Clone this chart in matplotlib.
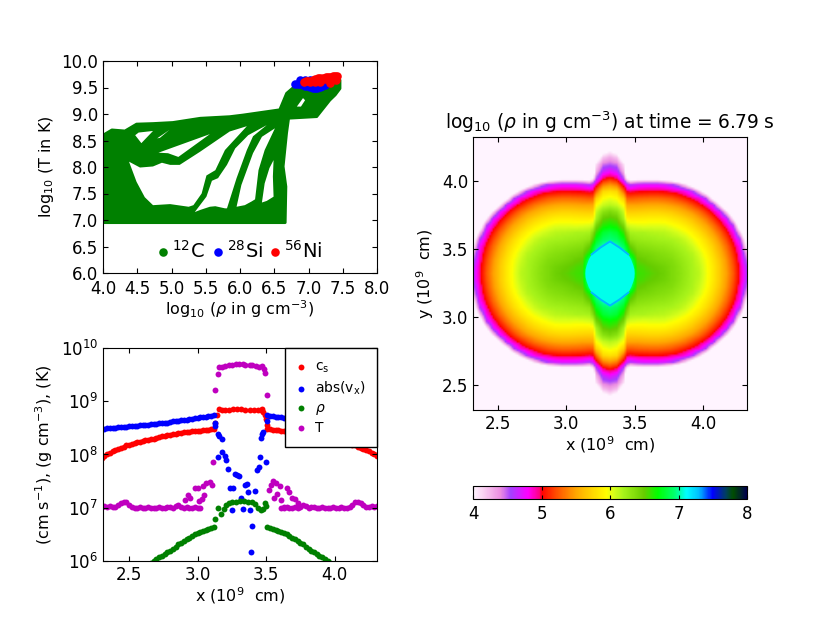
import numpy as np
import matplotlib
matplotlib.use("Agg")
import matplotlib.pyplot as plt
from matplotlib.colors import LinearSegmentedColormap

# fase (rho, T) - contorno da massa verde e buracos brancos
mass_rho = [4.0, 6.66, 6.67, 6.63, 6.68, 6.71, 7.12, 7.31, 7.39, 7.46, 7.46, 6.77, 6.68, 6.58, 6.04, 5.85, 5.42, 5.02, 4.73, 4.49, 4.32, 4.13, 4.0]
mass_temp = [6.95, 6.95, 7.63, 8.01, 8.64, 8.92, 8.95, 9.26, 9.36, 9.48, 9.64, 9.49, 9.39, 9.08, 8.98, 8.95, 8.92, 8.84, 8.82, 8.81, 8.68, 8.70, 8.60]

holes = [
    ([4.38, 4.54, 4.73, 4.86, 4.98, 5.12, 5.42, 5.85, 6.10, 5.78, 5.64, 5.51, 5.44, 5.32, 5.25, 4.98, 4.73, 4.61, 4.49],
     [8.10, 7.99, 8.01, 8.08, 8.04, 8.04, 8.29, 8.67, 8.77, 8.32, 7.94, 7.84, 7.50, 7.28, 7.25, 7.30, 7.28, 7.43, 7.72]),
    ([5.34, 5.42, 5.56, 5.64, 5.78, 5.81, 5.95, 6.10, 6.19, 6.39, 6.12, 5.93, 5.81, 5.71, 5.68, 5.59, 5.51],
     [7.15, 7.19, 7.25, 7.26, 7.22, 7.22, 7.79, 8.32, 8.58, 8.79, 8.60, 8.35, 8.04, 7.85, 7.79, 7.74, 7.44]),
    ([5.95, 6.07, 6.17, 6.22, 6.27, 6.36, 6.51, 6.32, 6.19, 6.02],
     [7.25, 7.28, 7.35, 7.39, 7.94, 8.32, 8.73, 8.57, 8.26, 7.66]),
    ([6.32, 6.36, 6.43, 6.49, 6.48, 6.49, 6.39],
     [7.33, 7.69, 7.98, 8.13, 7.82, 7.44, 7.36]),
    ([4.81, 5.56, 5.10, 4.95], [8.27, 8.62, 8.19, 8.26]),
    ([4.52, 4.73, 4.56, 4.47], [8.65, 8.68, 8.45, 8.60]),
    ([4.79, 4.97, 4.83], [8.54, 8.70, 8.55]),
    ([6.83, 6.92, 6.95, 6.89], [9.14, 9.30, 9.26, 9.14]),
]

si_rho = [6.81, 6.85, 6.88, 6.92, 6.95, 6.99, 7.02, 7.06, 7.09, 7.13, 7.17, 7.20, 7.24, 6.88, 6.95, 7.02]
si_temp = [9.57, 9.57, 9.57, 9.55, 9.53, 9.52, 9.51, 9.50, 9.49, 9.50, 9.51, 9.53, 9.55, 9.64, 9.64, 9.64]
ni_rho = [6.93, 6.96, 6.99, 7.03, 7.07, 7.10, 7.14, 7.17, 7.21, 7.25, 7.28, 7.32, 7.36, 7.39, 7.42, 7.02, 7.10, 7.17, 7.31, 7.40, 7.24, 7.36]
ni_temp = [9.61, 9.62, 9.62, 9.63, 9.64, 9.66, 9.67, 9.68, 9.68, 9.69, 9.70, 9.70, 9.71, 9.72, 9.72, 9.60, 9.60, 9.60, 9.58, 9.64, 9.66, 9.66]

# perfis em log10, lado esquerdo (o direito e o espelho)
x_edge = [2.30, 2.32, 2.34, 2.36, 2.38, 2.40, 2.42, 2.44, 2.46, 2.48, 2.50, 2.52, 2.54, 2.56,
          2.58, 2.60, 2.62, 2.64, 2.66, 2.68, 2.70, 2.72, 2.74, 2.76, 2.78, 2.80, 2.82, 2.84,
          2.86, 2.88, 2.90, 2.92, 2.94, 2.96, 2.98, 3.00, 3.02, 3.04, 3.06, 3.08, 3.10, 3.12]
vx_edge = [8.48, 8.48, 8.49, 8.49, 8.50, 8.50, 8.51, 8.51, 8.52, 8.52, 8.53, 8.53, 8.54, 8.54,
           8.55, 8.55, 8.56, 8.56, 8.57, 8.57, 8.58, 8.59, 8.59, 8.60, 8.60, 8.61, 8.62, 8.62,
           8.63, 8.64, 8.65, 8.65, 8.66, 8.67, 8.68, 8.69, 8.70, 8.70, 8.71, 8.72, 8.73, 8.74]
cs_edge = [7.93, 7.97, 8.00, 8.03, 8.06, 8.09, 8.11, 8.13, 8.15, 8.17, 8.18, 8.20, 8.21, 8.23,
           8.24, 8.25, 8.27, 8.28, 8.29, 8.30, 8.31, 8.33, 8.34, 8.35, 8.36, 8.37, 8.38, 8.39,
           8.40, 8.41, 8.42, 8.43, 8.43, 8.44, 8.44, 8.45, 8.45, 8.46, 8.46, 8.46, 8.47, 8.47]
dens_edge = [5.97, 6.00, 6.04, 6.07, 6.10, 6.13, 6.16, 6.19, 6.23, 6.27, 6.31, 6.34, 6.38, 6.41,
             6.44, 6.47, 6.50, 6.53, 6.55, 6.57, 6.59, 6.61, 6.62, 6.63]
temp_edge = [7.02, 7.03, 7.01, 7.03, 7.02, 7.02, 7.05, 7.08, 7.11, 7.10,
             7.05, 7.02, 7.00, 7.00, 7.01, 7.00, 7.00, 7.01, 7.00, 7.00,
             7.00, 7.01, 7.00, 7.00, 7.01, 7.02, 7.00, 7.03, 7.05, 7.02,
             7.00, 7.01, 7.00, 7.00, 7.01, 7.00, 7.00]

# pontos do miolo
x_cs_mid = [3.13, 3.14, 3.16, 3.18, 3.20, 3.23, 3.26, 3.29, 3.32, 3.35, 3.38, 3.41, 3.44, 3.46, 3.47, 3.48, 3.49, 3.50, 3.51]
cs_mid = [8.60, 8.75, 8.86, 8.84, 8.84, 8.84, 8.85, 8.85, 8.85, 8.84, 8.84, 8.84, 8.84, 8.84, 8.85, 8.80, 8.75, 8.66, 8.56]
x_vx_mid = [3.13, 3.13, 3.15, 3.16, 3.175, 3.146, 3.18, 3.20, 3.21, 3.225, 3.27, 3.285, 3.305, 3.345, 3.36, 3.235,
            3.26, 3.365, 3.42, 3.25, 3.33, 3.38, 3.315, 3.40, 3.39, 3.435, 3.45, 3.455, 3.50, 3.47, 3.46, 3.48, 3.505]
vx_mid = [8.53, 8.60, 8.38, 8.34, 8.29, 7.96, 8.04, 7.98, 7.90, 7.73, 7.63, 7.62, 7.59, 7.43, 7.44, 7.37,
          7.37, 7.30, 7.32, 6.96, 6.97, 6.95, 7.18, 6.65, 6.16, 7.71, 7.76, 7.96, 7.85, 8.39, 8.31, 8.43, 8.62]
x_dens_mid = [3.13, 3.15, 3.17, 3.19, 3.21, 3.23, 3.25, 3.28, 3.31, 3.34, 3.37, 3.40, 3.42, 3.44, 3.46, 3.48, 3.49, 3.50]
dens_mid = [6.78, 7.00, 6.88, 6.97, 7.05, 7.09, 7.11, 7.11, 7.12, 7.12, 7.11, 7.11, 7.07, 7.00, 6.95, 6.98, 7.08, 7.03]
x_temp_mid = [2.91, 2.93, 2.945, 2.98, 3.005, 3.04, 3.065, 3.09, 3.105, 3.05, 3.03, 3.01, 3.115, 3.13, 3.146, 3.156,
              3.18, 3.20, 3.23, 3.25, 3.28, 3.30, 3.33, 3.35, 3.38, 3.40, 3.43, 3.45, 3.47, 3.485, 3.49, 3.51,
              3.52, 3.535, 3.55, 3.57, 3.60, 3.65, 3.67, 3.69, 3.71, 3.735, 3.56, 3.58, 3.61, 3.63]
temp_mid = [7.15, 7.24, 7.18, 7.37, 7.38, 7.40, 7.46, 7.49, 7.43, 7.24, 7.17, 7.12, 7.86, 9.22, 9.52, 9.65,
            9.65, 9.67, 9.68, 9.69, 9.70, 9.70, 9.70, 9.69, 9.69, 9.68, 9.67, 9.65, 9.66, 9.60, 9.53, 9.12,
            7.33, 7.43, 7.50, 7.47, 7.40, 7.38, 7.30, 7.18, 7.17, 7.08, 7.18, 7.25, 7.15, 7.02]

# log10(rho): um quadrante em torno do centro
center = 3.32
dx_cols = [0, .05, .1, .125, .15, .2, .25, .3, .35, .4, .45, .5, .55, .6, .65, .7, .75, .8, .85, .9, .95, 1.0]
dy_rows = [0, .05, .1, .15, .2, .25, .3, .35, .4, .45, .5, .55, .6, .65, .7, .75, .8, .85, .9, .95, 1.0]
quadrant = [
    [7.12, 7.12, 7.12, 7.12, 7.12, 6.60, 6.57, 6.53, 6.50, 6.46, 6.39, 6.34, 6.27, 6.19, 6.14, 6.00, 5.85, 5.68, 5.49, 5.25, 4.95, 4.60],
    [7.12, 7.12, 7.12, 7.12, 7.10, 6.57, 6.54, 6.50, 6.47, 6.44, 6.39, 6.33, 6.26, 6.19, 6.12, 5.99, 5.85, 5.68, 5.47, 5.23, 4.94, 4.57],
    [7.12, 7.12, 7.12, 7.10, 6.95, 6.51, 6.48, 6.44, 6.41, 6.39, 6.36, 6.30, 6.24, 6.18, 6.09, 5.97, 5.82, 5.65, 5.44, 5.19, 4.90, 4.45],
    [7.12, 7.12, 7.05, 6.85, 6.65, 6.44, 6.41, 6.39, 6.36, 6.34, 6.31, 6.26, 6.20, 6.15, 6.05, 5.92, 5.77, 5.59, 5.38, 5.13, 4.85, 4.28],
    [7.12, 7.05, 6.90, 6.72, 6.48, 6.35, 6.33, 6.31, 6.29, 6.28, 6.25, 6.20, 6.16, 6.08, 5.97, 5.85, 5.71, 5.52, 5.31, 5.05, 4.78, 3.95],
    [6.95, 6.90, 6.75, 6.50, 6.30, 6.26, 6.24, 6.23, 6.21, 6.20, 6.18, 6.15, 6.09, 6.00, 5.90, 5.77, 5.61, 5.42, 5.20, 4.94, 4.60, 3.70],
    [6.85, 6.80, 6.60, 6.35, 6.20, 6.18, 6.18, 6.16, 6.15, 6.14, 6.10, 6.05, 5.99, 5.90, 5.79, 5.65, 5.49, 5.30, 5.07, 4.82, 4.20, 3.40],
    [6.68, 6.63, 6.42, 6.10, 6.05, 6.03, 6.02, 6.03, 6.03, 6.02, 5.98, 5.93, 5.86, 5.77, 5.65, 5.52, 5.35, 5.14, 4.92, 4.60, 3.70, 3.20],
    [6.55, 6.50, 6.20, 5.90, 5.87, 5.87, 5.88, 5.89, 5.89, 5.88, 5.84, 5.79, 5.72, 5.63, 5.50, 5.36, 5.17, 4.96, 4.72, 4.05, 3.40, 3.00],
    [6.40, 6.33, 6.10, 5.72, 5.70, 5.71, 5.72, 5.73, 5.73, 5.71, 5.68, 5.62, 5.54, 5.45, 5.33, 5.16, 4.97, 4.75, 4.18, 3.60],
    [6.15, 6.10, 5.95, 5.52, 5.50, 5.50, 5.52, 5.53, 5.53, 5.51, 5.47, 5.42, 5.34, 5.22, 5.08, 4.92, 4.70, 4.10, 3.50],
    [6.00, 5.95, 5.70, 5.27, 5.25, 5.28, 5.29, 5.30, 5.30, 5.28, 5.24, 5.17, 5.08, 4.97, 4.85, 4.58, 3.95, 3.50],
    [5.80, 5.75, 5.30, 5.00, 4.98, 5.00, 5.01, 5.02, 5.02, 5.00, 4.97, 4.92, 4.82, 4.64, 4.26, 3.80, 3.40],
    [5.45, 5.35, 4.95, 4.70, 4.60, 4.68, 4.72, 4.72, 4.72, 4.68, 4.60, 4.42, 4.15, 3.80, 3.40],
    [5.05, 4.95, 4.50, 3.95, 3.75, 3.80, 3.80, 3.80, 3.80, 3.70, 3.60, 3.40],
    [4.75, 4.65, 4.25, 3.60],
    [4.50, 4.45, 4.10, 3.60],
    [4.30, 4.20, 3.75, 3.20],
    [4.00, 3.85, 3.20],
    [3.40],
    [3.00],
]

# losango central e a borda azul dele
diamond_dx = [0, .07, .134, .155, .17, .178, .18]
diamond_dy = [.235, .19, .14, .10, .06, .03, 0]
rim_dx = [.134, .07, 0]
rim_dy = [.14, .19, .235]
diamond_color = (0, 1, .92)
rim_color = (0, .72, 1)

cmap_levels = [4.0, 4.15, 4.4, 4.55, 4.8, 4.97, 5.0, 5.25, 5.5, 5.75, 5.95, 6.05, 6.2, 6.5, 6.7, 6.95, 7.12, 7.3, 7.5, 7.7, 7.8, 8.0]
cmap_colors = [(1, .96, 1), (.98, .82, .95), (.92, .55, .88), (.65, .25, 1), (1, 0, 1), (1, 0, .5), (1, 0, 0),
               (1, .35, 0), (1, .65, 0), (1, .85, 0), (1, 1, 0), (.85, 1, .1), (.65, .95, .1), (.4, .8, 0),
               (0, 1, 0), (0, 1, .45), (0, 1, 1), (0, .75, 1), (0, 0, 1), (0, .25, .35), (0, .3, 0), (0, 0, .3)]

plt.rcParams['font.family'] = 'DejaVu Sans'
plt.rcParams['font.size'] = 12
plt.rcParams['axes.labelsize'] = 11.5
plt.rcParams['mathtext.default'] = 'regular'
plt.rcParams['xtick.direction'] = 'in'
plt.rcParams['ytick.direction'] = 'in'
plt.rcParams['xtick.top'] = True
plt.rcParams['ytick.right'] = True

half_ticks = [2.5, 3.0, 3.5, 4.0]

fig = plt.figure(figsize=(8.3, 6.23), dpi=100)

# painel de fase
ax1 = fig.add_axes([103/830, 1-273/623, 274/830, 212/623])
ax1.fill(mass_rho, mass_temp, color='g', lw=2, joinstyle='round')
for h_rho, h_temp in holes:
    ax1.fill(h_rho, h_temp, color='w', lw=0)
ax1.scatter(si_rho, si_temp, s=38, c='b', linewidths=0, label=r'$^{28}$Si', zorder=3)
ax1.scatter(ni_rho, ni_temp, s=38, c='r', linewidths=0, label=r'$^{56}$Ni', zorder=4)
ax1.scatter([], [], s=38, c='g', linewidths=0, label=r'$^{12}$C')
ax1.set_xlim(4, 8)
ax1.set_ylim(6, 10)
ax1.set_xticks([4.0, 4.5, 5.0, 5.5, 6.0, 6.5, 7.0, 7.5, 8.0])
ax1.set_yticks([6.0, 6.5, 7.0, 7.5, 8.0, 8.5, 9.0, 9.5, 10.0])
ax1.tick_params(axis='x', pad=5)
ax1.set_xlabel(r'log$_{10}$ ($\mathit{\rho}$ in g cm$^{-3}$)', labelpad=0)
ax1.set_ylabel(r'log$_{10}$ (T in K)')
h, l = ax1.get_legend_handles_labels()
ax1.legend([h[2], h[0], h[1]], [l[2], l[0], l[1]], ncol=3, loc='lower center', frameon=False, fontsize=14,
           scatterpoints=1, handlelength=0.6, handletextpad=0.16, columnspacing=0.36, borderaxespad=0.2)

# perfis
ax2 = fig.add_axes([103/830, 1-561/623, 274/830, 213/623])
x_edge_r = [6.63 - x for x in x_edge]
x_dens = x_edge[-len(dens_edge):]
x_temp = x_edge[:len(temp_edge)]
cs = [10**v for v in cs_edge + cs_edge + cs_mid]
vx = [10**v for v in vx_edge + vx_edge + vx_mid]
dens = [10**v for v in dens_edge + dens_edge + dens_mid]
temp = [10**v for v in temp_edge + temp_edge + temp_mid]
ax2.scatter(x_edge + x_edge_r + x_cs_mid, cs, s=18, c='r', linewidths=0, label=r'c$_s$')
ax2.scatter(x_edge + x_edge_r + x_vx_mid, vx, s=18, c='b', linewidths=0, label=r'abs(v$_x$)')
ax2.scatter(x_dens + [6.63 - x for x in x_dens] + x_dens_mid, dens, s=18, c='g', linewidths=0, label=r'$\mathit{\rho}$')
ax2.scatter(x_temp + [6.63 - x for x in x_temp] + x_temp_mid, temp, s=18, c='m', linewidths=0, label='T')
ax2.set_yscale('log')
ax2.set_xlim(2.31, 4.31)
ax2.set_ylim(1e6, 1e10)
ax2.minorticks_off()
ax2.set_xticks(half_ticks)
ax2.set_xlabel(r'x (10$^9$  cm)', labelpad=1)
ax2.set_ylabel(r'(cm s$^{-1}$), (g cm$^{-3}$), (K)')
leg = ax2.legend(loc='upper right', scatterpoints=1, fontsize=10, fancybox=False, framealpha=1, edgecolor='k',
                 borderaxespad=0, labelspacing=0.3, borderpad=0.85, handlelength=0.6, handletextpad=0.65)
leg.get_frame().set_linewidth(1)

# mapa de densidade: so reamostra a tabela e espelha os quadrantes
rows = np.array([r + [3.0] * (len(dx_cols) - len(r)) for r in quadrant])
step = .0125
fine = np.arange(0, 1 + step / 2, step)
by_x = np.array([np.interp(fine, dx_cols, r) for r in rows])
quad = np.array([np.interp(fine, dy_rows, c) for c in by_x.T]).T
right = np.hstack([quad[:, :0:-1], quad])
field = np.vstack([right[:0:-1], right])
cmap = LinearSegmentedColormap.from_list('flame', [((v - 4) / 4, c) for v, c in zip(cmap_levels, cmap_colors)], N=512)

ax3 = fig.add_axes([473/830, 1-410/623, 274/830, 273/623])
half = 1 + step / 2
im = ax3.imshow(field, origin='lower', extent=[center - half, center + half, center - half, center + half],
                cmap=cmap, vmin=4, vmax=8, interpolation='bilinear', aspect='auto')
poly_dx = diamond_dx + [-d for d in diamond_dx[::-1]]
poly_dy = diamond_dy + diamond_dy[::-1]
poly_x = [center + d for d in poly_dx + poly_dx[::-1]]
poly_y = [center + d for d in poly_dy] + [center - d for d in poly_dy[::-1]]
ax3.fill(poly_x, poly_y, color=diamond_color, lw=0)
rim_x = [center + d for d in rim_dx] + [center - d for d in rim_dx[::-1]]
ax3.plot(rim_x, [center + d for d in rim_dy + rim_dy[::-1]], color=rim_color, lw=1.4)
ax3.plot(rim_x, [center - d for d in rim_dy + rim_dy[::-1]], color=rim_color, lw=1.4)
ax3.set_xlim(2.32, 4.32)
ax3.set_ylim(2.32, 4.32)
ax3.set_xticks(half_ticks)
ax3.set_yticks(half_ticks)
ax3.set_xlabel(r'x (10$^9$  cm)', labelpad=1)
ax3.set_ylabel(r'y (10$^9$  cm)')
ax3.set_title(r'log$_{10}$ ($\mathit{\rho}$ in g cm$^{-3}$) at time = 6.79 s', fontsize=13.4, pad=6)

cax = fig.add_axes([473/830, 1-499/623, 274/830, 13/623])
cb = fig.colorbar(im, cax=cax, orientation='horizontal', ticks=[4, 5, 6, 7, 8])
cax.tick_params(axis='x', direction='in', top=True, bottom=True, length=3, pad=4)

fig.savefig('out.png', dpi=100)
